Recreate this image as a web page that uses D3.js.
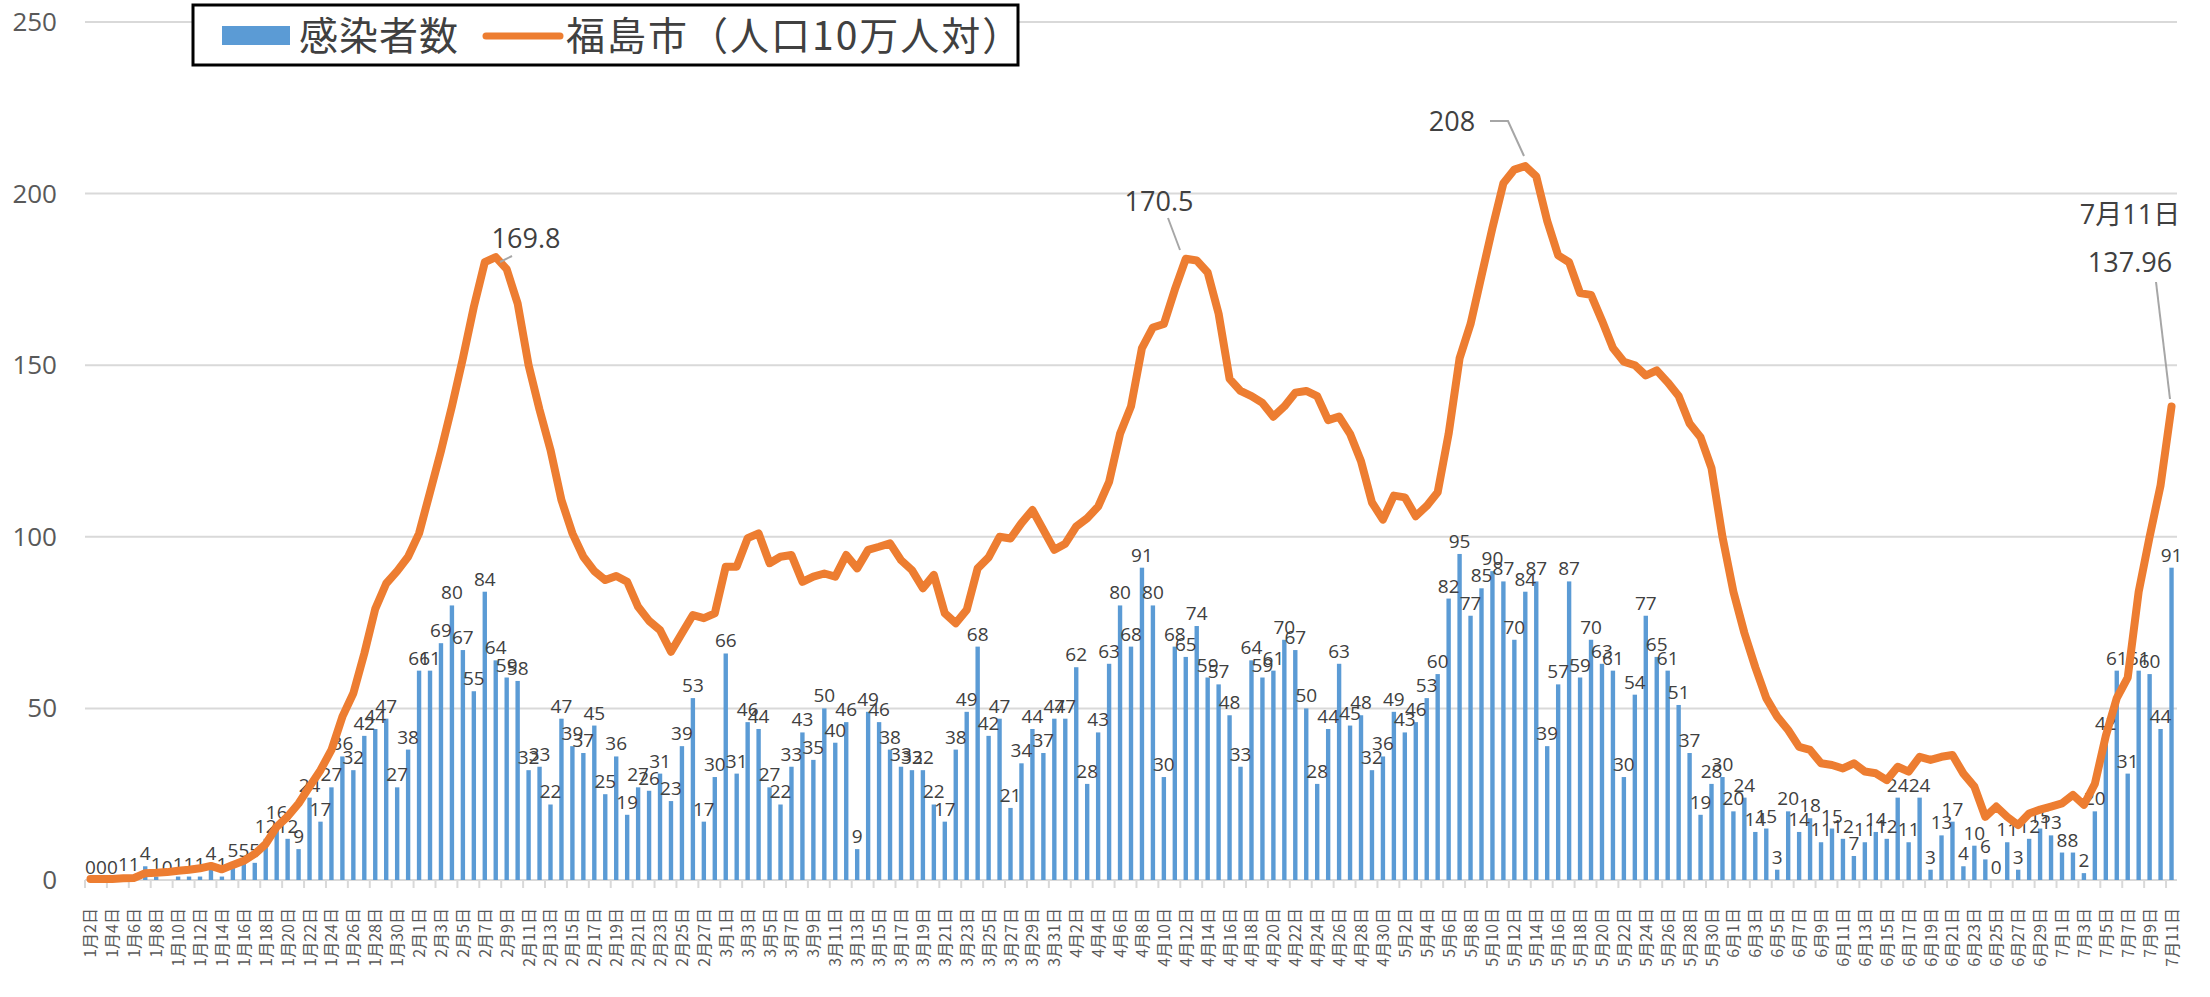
<!DOCTYPE html>
<html>
<head>
<meta charset="utf-8">
<script src="https://cdn.jsdelivr.net/npm/d3@7"></script>
<style>
  body { margin: 0; background: #fff; }
  svg { display: block; }
</style>
</head>
<body>
<svg id="chart"></svg>
<script>
// daily new cases, 1/2 .. 7/11
var cases = [0,0,0,1,1,4,1,0,1,1, 1,4,1,5,5,5,12,16,12,9,
  24,17,27,36,32,42,44,47,27,38, 61,61,69,80,67,55,84,64,59,58,
  32,33,22,47,39,37,45,25,36,19, 27,26,31,23,39,53,17,30,66,31,
  46,44,27,22,33,43,35,50,40,46, 9,49,46,38,33,32,32,22,17,38,
  49,68,42,47,21,34,44,37,47,47, 62,28,43,63,80,68,91,80,30,68,
  65,74,59,57,48,33,64,59,61,70, 67,50,28,44,63,45,48,32,36,49,
  43,46,53,60,82,95,77,85,90,87, 70,84,87,39,57,87,59,70,63,61,
  30,54,77,65,61,51,37,19,28,30, 20,24,14,15,3,20,14,18,11,15,
  12,7,11,14,12,24,11,24,3,13, 17,4,10,6,0,11,3,12,15,13,
  8,8,2,20,42,61,31,61,60,44, 91];

// 福島市 per 100k (weekly)
var rate = [0.3,0.3,0.3,0.5,0.6,2.0,2.1,2.3,2.7,3.0, 3.4,4.1,3.1,4.4,5.6,7.6,10.5,15.5,18.5,22.3,
  27.2,32,37.9,47.6,54.4,66,79,86.4,90,94.2, 101,113,125,138,152,167,180,181.5,178,168,
  150,137,125.3,110.7,101,94.2,90,87.4,88.6,86.9, 79.6,75.5,72.8,66.5,71.9,77.2,76.3,77.7,91.3,91.3,
  99.6,101,92.3,94.2,94.7,86.9,88.4,89.3,88.4,94.7, 90.8,96.2,97.1,98.1,93.2,90.3,85,88.9,77.7,74.8,
  78.7,90.8,94,100,99.5,104,107.8,102,96.2,98, 103,105.4,108.8,116,130,138,155,161,162,172,
  181,180.5,177,165,146,142.5,141,139,135,138, 142,142.5,141,134,135,130,122,110,105,112,
  111.5,106,109,113,130,152,162,176,190,203, 207,208,205,192,182,180,171,170.5,163,155,
  151,150,147,148.5,145,141,133,129,120,100, 84,72,62,53,47.6,43.7,38.8,37.9,34,33.5,
  32.5,34,31.6,31.1,29.1,33,31.6,35.9,35,35.9, 36.4,31,27.2,18.4,21.4,18.4,16,19.4,20.5,21.4,
  22.3,24.8,21.9,28,42,53,59,84,100,115, 137.96];

var days = d3.timeDay.range(new Date(2022, 0, 2), new Date(2022, 6, 12));
var yTicks = [0, 50, 100, 150, 200, 250];

// callouts: label lines, text centre (px) and leader line end points
var callouts = [
  { text: ["169.8"], tx: 526, ty: 248, lead: [[512, 256], [500, 262]] },
  { text: ["170.5"], tx: 1159, ty: 211, lead: [[1168, 218], [1180, 250]] },
  { text: ["208"], tx: 1452, ty: 131, lead: [[1490, 121], [1508, 121], [1524, 156]] },
  { text: ["7月11日", "137.96"], tx: 2130, ty: 224, lead: [[2156, 282], [2170, 399]] }
];

var W = 2210, H = 997;
var margin = { left: 85, right: 33, top: 22, bottom: 117 };

var svg = d3.select("#chart").attr("width", W).attr("height", H);

var x = d3.scaleBand()
  .domain(d3.range(cases.length))
  .range([margin.left, W - margin.right])
  .paddingInner(0.6)
  .paddingOuter(0.3);

var y = d3.scaleLinear().domain([0, 250]).range([H - margin.bottom, margin.top]);

var cx = function(i) { return x(i) + x.bandwidth() / 2; };
var x0 = margin.left, x1 = W - margin.right;

// grid
svg.append("g").selectAll("line")
  .data(yTicks)
  .enter().append("line")
  .attr("x1", x0).attr("x2", x1)
  .attr("y1", d => y(d)).attr("y2", d => y(d))
  .attr("stroke", "#d9d9d9").attr("stroke-width", 2);

svg.append("g").selectAll("text")
  .data(yTicks)
  .enter().append("text")
  .attr("x", 57).attr("y", d => y(d) + 9)
  .attr("text-anchor", "end")
  .style("font-family", "'Open Sans', sans-serif")
  .style("font-size", "26px")
  .attr("fill", "#595959")
  .text(d => d);

// x ticks every 2 days
var tickIdx = d3.range(0, cases.length + 1, 2);
svg.append("g").selectAll("line")
  .data(tickIdx)
  .enter().append("line")
  .attr("x1", d => x0 + d * (x1 - x0) / cases.length)
  .attr("x2", d => x0 + d * (x1 - x0) / cases.length)
  .attr("y1", y(0)).attr("y2", y(0) + 8)
  .attr("stroke", "#d9d9d9").attr("stroke-width", 2);

// bars
svg.append("g").selectAll("rect")
  .data(cases)
  .enter().append("rect")
  .attr("x", (d, i) => x(i))
  .attr("width", x.bandwidth())
  .attr("y", d => y(d))
  .attr("height", d => y(0) - y(d))
  .attr("fill", "#5b9bd5");

// bar labels
svg.append("g").selectAll("text")
  .data(cases)
  .enter().append("text")
  .attr("x", (d, i) => cx(i))
  .attr("y", d => y(d) - 6)
  .attr("text-anchor", "middle")
  .style("font-family", "'Open Sans', sans-serif")
  .style("font-size", "19px")
  .attr("fill", "#404040")
  .text(d => d);

// line
var line = d3.line()
  .x((d, i) => cx(i))
  .y(d => y(d));

svg.append("path")
  .datum(rate)
  .attr("d", line)
  .attr("fill", "none")
  .attr("stroke", "#ed7d31")
  .attr("stroke-width", 8)
  .attr("stroke-linejoin", "round")
  .attr("stroke-linecap", "round");

// x labels
var labelIdx = d3.range(0, cases.length, 2);
svg.append("g").selectAll("text")
  .data(labelIdx)
  .enter().append("text")
  .attr("transform", i => "translate(" + (cx(i) + 6) + "," + (y(0) + 28) + ") rotate(-90)")
  .attr("text-anchor", "end")
  .style("font-family", "'Noto Sans CJK JP', sans-serif")
  .style("font-size", "16px")
  .attr("fill", "#595959")
  .text(i => (days[i].getMonth() + 1) + "月" + days[i].getDate() + "日");

// callouts
var cg = svg.append("g");
callouts.forEach(function(c) {
  cg.append("path")
    .attr("d", d3.line()(c.lead))
    .attr("fill", "none")
    .attr("stroke", "#a6a6a6")
    .attr("stroke-width", 2);
  c.text.forEach(function(t, k) {
    cg.append("text")
      .attr("x", c.tx).attr("y", c.ty + k * 48)
      .attr("text-anchor", "middle")
      .style("font-family", "'Open Sans', 'Noto Sans CJK JP', sans-serif")
      .style("font-size", "27px")
      .attr("fill", "#404040")
      .text(t);
  });
});

// legend
var lg = svg.append("g");
lg.append("rect")
  .attr("x", 193).attr("y", 5).attr("width", 825).attr("height", 60)
  .attr("fill", "#fff").attr("stroke", "#000").attr("stroke-width", 3);
lg.append("rect")
  .attr("x", 222).attr("y", 26).attr("width", 68).attr("height", 19)
  .attr("fill", "#5b9bd5");
lg.append("text")
  .attr("x", 299).attr("y", 50)
  .style("font-family", "'Noto Sans CJK JP', sans-serif")
  .style("font-size", "39px")
  .style("letter-spacing", "1px")
  .attr("fill", "#404040")
  .text("感染者数");
lg.append("line")
  .attr("x1", 486).attr("x2", 560).attr("y1", 36).attr("y2", 36)
  .attr("stroke", "#ed7d31").attr("stroke-width", 7).attr("stroke-linecap", "round");
lg.append("text")
  .attr("x", 566).attr("y", 50)
  .style("font-family", "'Noto Sans CJK JP', sans-serif")
  .style("font-size", "39px")
  .style("letter-spacing", "2px")
  .attr("fill", "#404040")
  .text("福島市（人口10万人対）");
</script>
</body>
</html>
